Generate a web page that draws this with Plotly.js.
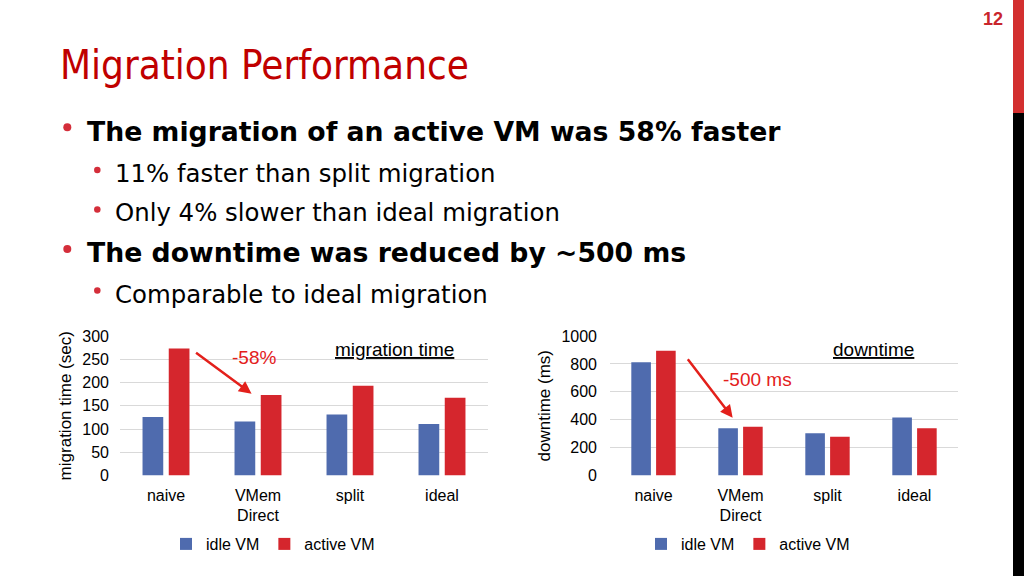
<!DOCTYPE html>
<html>
<head>
<meta charset="utf-8">
<script src="https://cdn.plot.ly/plotly-3.0.1.min.js"></script>
<style>html,body{margin:0;padding:0;background:#fff;overflow:hidden}#chart{width:1024px;height:576px}</style>
</head>
<body>
<div id="chart"></div>
<script>
// ---- data ----
const categories = ['naive', 'VMem Direct', 'split', 'ideal'];
const tickLabels = ['naive', 'VMem<br>Direct', 'split', 'ideal'];
const seriesNames = ['idle VM', 'active VM'];
const migIdle = [126, 116, 131, 111];
const migActive = [273, 173, 193, 167];
const downIdle = [811, 338, 302, 415];
const downActive = [894, 350, 278, 338];
const migTicks = [0, 50, 100, 150, 200, 250, 300];
const downTicks = [0, 200, 400, 600, 800, 1000];

const W = 1024, H = 576;
const px = x => x / W;
const py = y => 1 - y / H;
const BLUE = '#4F6BAE', RED = '#D5262D';
const CF = 'Liberation Sans, Arial, sans-serif';
const SF = 'DejaVu Sans, Verdana, sans-serif';
const TF = 'DejaVu Sans Condensed, Liberation Sans Narrow, sans-serif';

const traces = [
  {type:'bar', x:categories, y:migIdle, name:seriesNames[0], marker:{color:BLUE}, xaxis:'x', yaxis:'y', legend:'legend'},
  {type:'bar', x:categories, y:migActive, name:seriesNames[1], marker:{color:RED}, xaxis:'x', yaxis:'y', legend:'legend'},
  {type:'bar', x:categories, y:downIdle, name:seriesNames[0], marker:{color:BLUE}, xaxis:'x2', yaxis:'y2', legend:'legend2'},
  {type:'bar', x:categories, y:downActive, name:seriesNames[1], marker:{color:RED}, xaxis:'x2', yaxis:'y2', legend:'legend2'}
];

const xCommon = {type:'category', categoryorder:'array', categoryarray:categories,
  tickvals:categories, ticktext:tickLabels, showgrid:false, zeroline:false, showline:false,
  ticks:'', ticklabelstandoff:8, tickfont:{family:CF, size:16, color:'#000'}, fixedrange:true};
const yCommon = {showgrid:true, gridcolor:'#D9D9D9', gridwidth:1, zeroline:false, showline:false,
  ticks:'', tickfont:{family:CF, size:16, color:'#000'}, fixedrange:true};

const legendCommon = {orientation:'h', xanchor:'center', yanchor:'middle', font:{family:CF, size:16, color:'#000'},
  itemwidth:30, bgcolor:'rgba(0,0,0,0)', itemclick:false, itemdoubleclick:false};

const slideLines = [
  {t:'<b>The migration of an active VM was 58% faster</b>', x:85, y:131, s:26.7},
  {t:'11% faster than split migration', x:113, y:173, s:24.4},
  {t:'Only 4% slower than ideal migration', x:113, y:212.7, s:24.4},
  {t:'<b>The downtime was reduced by ~500 ms</b>', x:85, y:252.5, s:26.7},
  {t:'Comparable to ideal migration', x:113, y:294, s:24.4}
];
const bullets = [[67.3,127.3,8],[97.3,170,6.5],[97.3,209.5,6.5],[67.3,249,8],[97.3,290.5,6.5]];

const annotations = [
  {text:'Migration Performance', xref:'paper', yref:'paper', x:px(58), y:py(64.7), xanchor:'left', yanchor:'middle', showarrow:false, font:{family:TF, size:40, color:'#C00000'}},
  {text:'<b>12</b>', xref:'paper', yref:'paper', x:px(992.7), y:py(19.5), xanchor:'center', yanchor:'middle', showarrow:false, font:{family:CF, size:18, color:'#C9252C'}},
  {text:'<u>migration time</u>', xref:'paper', yref:'paper', x:px(394.5), y:py(349), xanchor:'center', yanchor:'middle', showarrow:false, font:{family:CF, size:19, color:'#000'}},
  {text:'<u>downtime</u>', xref:'paper', yref:'paper', x:px(873), y:py(349), xanchor:'center', yanchor:'middle', showarrow:false, font:{family:CF, size:19, color:'#000'}},
  {text:'-58%', xref:'x', yref:'y', x:0.957, y:253, xanchor:'center', yanchor:'middle', showarrow:false, font:{family:CF, size:19, color:'#E3201B'}},
  {text:'', xref:'x', yref:'y', x:0.93, y:176, showarrow:true, axref:'pixel', ayref:'pixel', ax:-57, ay:-42, arrowcolor:'#E3201B', arrowwidth:2.5, arrowhead:2, arrowsize:1},
  {text:'-500 ms', xref:'x2', yref:'y2', x:1.2, y:686, xanchor:'center', yanchor:'middle', showarrow:false, font:{family:CF, size:19, color:'#E3201B'}},
  {text:'', xref:'x2', yref:'y2', x:0.91, y:414, showarrow:true, axref:'pixel', ayref:'pixel', ax:-46, ay:-60, arrowcolor:'#E3201B', arrowwidth:2.5, arrowhead:2, arrowsize:1}
];
slideLines.forEach(l => annotations.push({text:l.t, xref:'paper', yref:'paper', x:px(l.x), y:py(l.y), xanchor:'left', yanchor:'middle', showarrow:false, font:{family:SF, size:l.s, color:'#000'}}));

const shapes = [
  {type:'rect', xref:'paper', yref:'paper', x0:px(1013), x1:1, y0:py(113), y1:1, fillcolor:'#D32F2F', line:{width:0}},
  {type:'rect', xref:'paper', yref:'paper', x0:px(1013), x1:1, y0:0, y1:py(113), fillcolor:'#000', line:{width:0}}
];
bullets.forEach(b => shapes.push({type:'circle', xref:'paper', yref:'paper', x0:px(b[0]-b[2]/2), x1:px(b[0]+b[2]/2), y0:py(b[1]+b[2]/2), y1:py(b[1]-b[2]/2), fillcolor:'#D42E3A', line:{width:0}}));

const layout = {
  width:W, height:H, margin:{l:0, r:0, t:0, b:0}, paper_bgcolor:'#fff', plot_bgcolor:'#fff',
  barmode:'group', bargap:0.43, bargroupgap:0.21,
  xaxis:Object.assign({}, xCommon, {domain:[px(120), px(488)], anchor:'y'}),
  yaxis:Object.assign({}, yCommon, {domain:[py(475.5), py(336)], anchor:'x', range:[0,300], tickvals:migTicks, ticklabelstandoff:10,
    title:{text:'migration time (sec)', font:{family:CF, size:17, color:'#000'}, standoff:6}}),
  xaxis2:Object.assign({}, xCommon, {domain:[px(610), px(958)], anchor:'y2'}),
  yaxis2:Object.assign({}, yCommon, {domain:[py(475.5), py(336)], anchor:'x2', range:[0,1000], tickvals:downTicks, ticklabelstandoff:12,
    title:{text:'downtime (ms)', font:{family:CF, size:17, color:'#000'}, standoff:6}}),
  legend:Object.assign({}, legendCommon, {x:px(273), y:py(544)}),
  legend2:Object.assign({}, legendCommon, {x:px(748), y:py(544)}),
  annotations:annotations, shapes:shapes, showlegend:true
};
Plotly.newPlot('chart', traces, layout, {displayModeBar:false, staticPlot:true});
</script>
</body>
</html>
